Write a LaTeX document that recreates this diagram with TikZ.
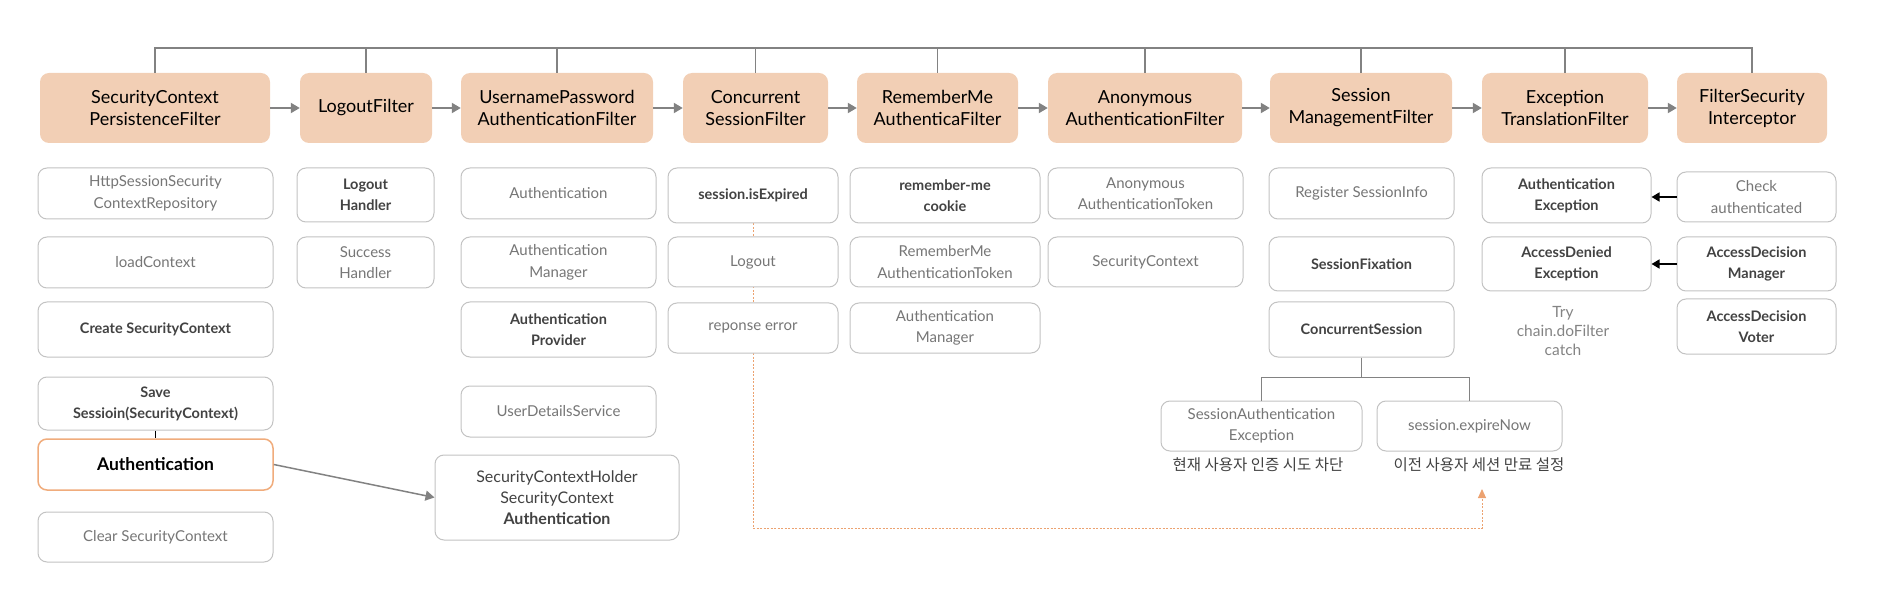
\documentclass[tikz,border=0pt]{standalone}
\usepackage{fontspec}
\setmainfont{Lato}
\newfontfamily\kofont{Noto Sans CJK KR}
\usetikzlibrary{arrows.meta,backgrounds}
\definecolor{filterpeach}{RGB}{242,207,181}
\definecolor{boxline}{RGB}{195,195,195}
\definecolor{textgray}{RGB}{118,118,118}
\definecolor{textdark}{RGB}{66,66,66}
\definecolor{authorange}{RGB}{240,172,124}
\definecolor{linegray}{RGB}{130,130,130}
\definecolor{dashorange}{RGB}{236,162,112}

\tikzset{
  filterbox/.style={fill=filterpeach, rounded corners=9pt, align=center, inner sep=0pt,
    minimum height=70, text=black, font=\fontsize{18}{22}\selectfont},
  subbox/.style={draw=boxline, line width=1pt, fill=white, rounded corners=9pt, align=center,
    inner sep=0pt, text=textgray, font=\fontsize{15}{21.5}\selectfont},
  subbold/.style={subbox, text=textdark, font=\fontsize{14.5}{21}\selectfont\bfseries},
  boxsize/.style 2 args={minimum width=#1, minimum height=#2},
  flow/.style={linegray, line width=2pt, -{Triangle[length=9pt,width=10pt]}},
  bus/.style={linegray, line width=1.5pt},
}

\begin{document}
\begin{tikzpicture}[x=1pt, y=-1pt]
  \useasboundingbox (0,0) rectangle (1890,612);
  % cadena de filtros
  \foreach \n/\x/\w/\t in {
    f1/155/230/{SecurityContext\\PersistenceFilter},
    f2/366/132/{LogoutFilter},
    f3/557/192/{UsernamePassword\\AuthenticationFilter},
    f4/755.5/145/{Concurrent\\SessionFilter},
    f5/937.5/161/{RememberMe\\AuthenticaFilter},
    f6/1145/194/{Anonymous\\AuthenticationFilter},
    f7/1361/182/{Session\\ManagementFilter},
    f8/1565/166/{Exception\\TranslationFilter},
    f9/1752/150/{FilterSecurity\\Interceptor}} {
    \node[filterbox, minimum width=\w] (\n) at (\x,108) {\t};
  }
  \foreach \a/\b in {f1/f2,f2/f3,f3/f4,f4/f5,f5/f6,f6/f7,f7/f8,f8/f9} {
    \draw[flow] (\a) -- (\b);
  }
  % barra superior
  \coordinate (bus) at (0,48);
  \draw[bus] (f1.north) -- (f1.north |- bus) -- (f9.north |- bus) -- (f9.north);
  \foreach \n in {f2,f3,f4,f5,f6,f7,f8} {
    \draw[bus] (\n.north) -- (\n.north |- bus);
  }

  % SecurityContextPersistenceFilter
  \node[subbox, boxsize={235}{51}] (c1a) at (155.5,193.5) {HttpSessionSecurity\\ContextRepository};
  \node[subbox, boxsize={235}{51}] (c1b) at (155.5,262.5) {loadContext};
  \node[subbold, boxsize={235}{55}] (c1c) at (155.5,329.5) {Create SecurityContext};
  \node[subbold, boxsize={235}{53}] (c1d) at (155.5,403.5) {Save\\Sessioin(SecurityContext)};
  \node[subbold, draw=authorange, line width=1.5pt, text=black, font=\fontsize{17.5}{21}\selectfont\bfseries,
    boxsize={235}{51}] (c1e) at (155.5,464.5) {Authentication};
  \node[subbox, boxsize={235}{50}] (c1f) at (155.5,537) {Clear SecurityContext};
  \draw[black, line width=1pt] (c1d.south) -- (c1e.north);

  % LogoutFilter
  \node[subbold, boxsize={137}{54}] (c2a) at (365.5,195) {Logout\\Handler};
  \node[subbox, boxsize={137}{51}] (c2b) at (365.5,262.5) {Success\\Handler};

  % UsernamePasswordAuthenticationFilter
  \node[subbox, boxsize={195}{51}] (c3a) at (558.5,193.5) {Authentication};
  \node[subbox, boxsize={195}{51}] (c3b) at (558.5,262.5) {Authentication\\Manager};
  \node[subbold, boxsize={195}{55}] (c3c) at (558.5,329.5) {Authentication\\Provider};
  \node[subbox, boxsize={195}{51}] (c3d) at (558.5,411.5) {UserDetailsService};
  \node[subbox, text=textdark, font=\fontsize{16}{21}\selectfont, boxsize={244}{85}] (sch) at (557,497.5)
    {SecurityContextHolder\\SecurityContext\\\textbf{Authentication}};
  \draw[flow, line width=1.5pt] (c1e.east) -- (sch.west);

  % ConcurrentSessionFilter
  \node[subbold, boxsize={170}{55}] (c4a) at (753,195.5) {session.isExpired};
  \node[subbox, boxsize={170}{50}] (c4b) at (753,262) {Logout};
  \node[subbox, boxsize={170}{50}] (c4c) at (753,328) {reponse error};

  % RememberMeAuthenticaFilter
  \node[subbold, boxsize={190}{55}] (c5a) at (945,195.5) {remember-me\\cookie};
  \node[subbox, boxsize={190}{50}] (c5b) at (945,262) {RememberMe\\AuthenticationToken};
  \node[subbox, boxsize={190}{50}] (c5c) at (945,328) {Authentication\\Manager};

  % AnonymousAuthenticationFilter
  \node[subbox, boxsize={195}{51}] (c6a) at (1145.5,193.5) {Anonymous\\AuthenticationToken};
  \node[subbox, boxsize={195}{50}] (c6b) at (1145.5,262) {SecurityContext};

  % SessionManagementFilter
  \node[subbox, boxsize={185}{51}] (c7a) at (1361.5,193.5) {Register SessionInfo};
  \node[subbold, boxsize={185}{54}] (c7b) at (1361.5,264) {SessionFixation};
  \node[subbold, boxsize={185}{55}] (c7c) at (1361.5,329.5) {ConcurrentSession};
  \node[subbox, boxsize={201}{50}] (s1) at (1261.5,426) {SessionAuthentication\\Exception};
  \node[subbox, boxsize={185}{50}] (s2) at (1469.5,426) {session.expireNow};
  \draw[bus] (c7c.south) -- ++(0,20) coordinate (fork);
  \draw[bus] (s1.north) |- (fork) -| (s2.north);
  \node[text=textdark, font=\kofont\fontsize{15.5}{18}\selectfont] (k1) at (1258,465) {현재 사용자 인증 시도 차단};
  \node[text=textdark, font=\kofont\fontsize{15.5}{18}\selectfont] (k2) at (1479,465) {이전 사용자 세션 만료 설정};

  % ExceptionTranslationFilter / FilterSecurityInterceptor
  \node[subbold, boxsize={169}{55}] (c8a) at (1566.5,195.5) {Authentication\\Exception};
  \node[subbold, boxsize={169}{54}] (c8b) at (1566.5,264) {AccessDenied\\Exception};
  \node[align=center, text=textgray!90, font=\fontsize{15.5}{19}\selectfont] (try) at (1563,331)
    {Try\\chain.doFilter\\catch};
  \node[subbox, boxsize={159}{50}] (c9a) at (1756.5,197) {Check\\authenticated};
  \node[subbold, boxsize={159}{54}] (c9b) at (1756.5,264) {AccessDecision\\Manager};
  \node[subbold, boxsize={159}{55}] (c9c) at (1756.5,326.5) {AccessDecision\\Voter};
  \draw[black, line width=1.5pt, -{Triangle[length=8pt,width=9pt]}] (c9a.west) -- (c9a.west -| c8a.east);
  \draw[black, line width=1.5pt, -{Triangle[length=8pt,width=9pt]}] (c9b.west) -- (c8b.east);

  % session.isExpired -> expireNow (detras de las cajas)
  \coordinate (bend) at (1482,528);
  \coordinate (tip) at (1482,489);
  \begin{scope}[on background layer]
    \draw[dashorange, line width=1pt, dash pattern=on 2pt off 1.5pt, -{Triangle[length=9pt,width=8pt]}]
      (c4a.south) |- (bend) -- (tip);
  \end{scope}
\end{tikzpicture}
\end{document}
